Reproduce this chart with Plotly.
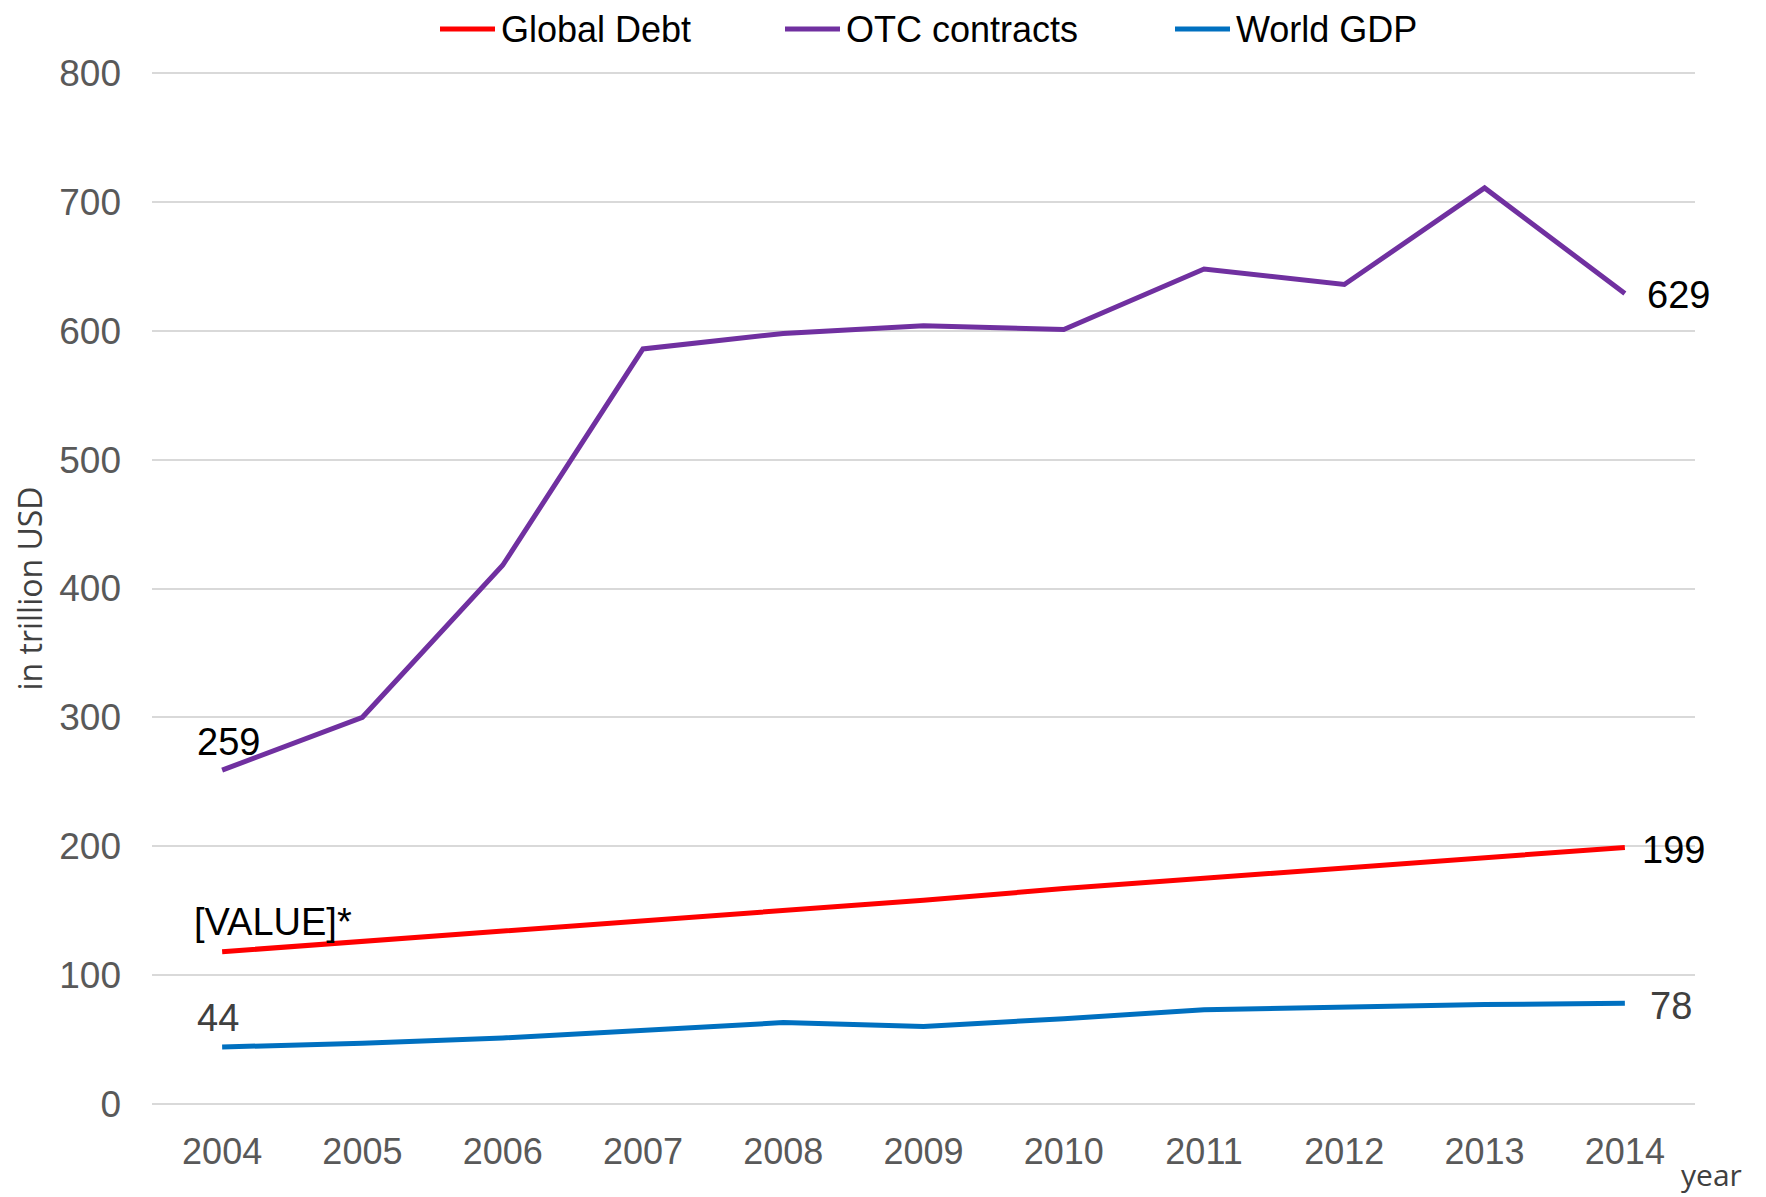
import plotly.graph_objects as go

years = [2004, 2005, 2006, 2007, 2008, 2009, 2010, 2011, 2012, 2013, 2014]
global_debt = [118, 126, 134, 142, 150, 158, 167, 175, 183, 191, 199]
otc_contracts = [259, 300, 418, 586, 598, 604, 601, 648, 636, 711, 629]
world_gdp = [44, 47, 51, 57, 63, 60, 66, 73, 75, 77, 78]

series_names = ["Global Debt", "OTC contracts", "World GDP"]
series_values = [global_debt, otc_contracts, world_gdp]
series_colors = ["#FF0000", "#7030A0", "#0070C0"]

y_ticks = [0, 100, 200, 300, 400, 500, 600, 700, 800]

# page body has an 8px margin: figure coordinates = screen coordinates - 8
OFF = 8
W, H = 1766, 1197
L, T = 152 - OFF, 72 - OFF
PW, PH = 1543, 1033
R, B = W - L - PW, H - T - PH


def px_x(sx):
    return (sx - OFF - L) / PW


def px_y(sy):
    return (T + PH - (sy - OFF)) / PH


fig = go.Figure()
for name, vals, col in zip(series_names, series_values, series_colors):
    fig.add_trace(go.Scatter(
        x=years, y=vals, name=name, mode="lines",
        line=dict(color=col, width=5), showlegend=False,
    ))

ARIAL = "Liberation Sans, Arial, sans-serif"
LABEL_FONT = dict(family=ARIAL, size=38)
# start labels
fig.add_annotation(x=years[0], y=otc_contracts[0], text=str(otc_contracts[0]),
                   showarrow=False, xanchor="left", yanchor="middle",
                   xshift=-27, yshift=28, font=dict(LABEL_FONT, color="#000000"))
fig.add_annotation(x=years[0], y=global_debt[0], text="[VALUE]*",
                   showarrow=False, xanchor="left", yanchor="middle",
                   xshift=-30, yshift=30, font=dict(LABEL_FONT, color="#000000"))
fig.add_annotation(x=years[0], y=world_gdp[0], text=str(world_gdp[0]),
                   showarrow=False, xanchor="left", yanchor="middle",
                   xshift=-27, yshift=29, font=dict(LABEL_FONT, color="#404040"))
# end labels
fig.add_annotation(x=years[-1], y=otc_contracts[-1], text=str(otc_contracts[-1]),
                   showarrow=False, xanchor="left", yanchor="middle",
                   xshift=20, yshift=-1, font=dict(LABEL_FONT, color="#000000"))
fig.add_annotation(x=years[-1], y=global_debt[-1], text=str(global_debt[-1]),
                   showarrow=False, xanchor="left", yanchor="middle",
                   xshift=15, yshift=-3, font=dict(LABEL_FONT, color="#000000"))
fig.add_annotation(x=years[-1], y=world_gdp[-1], text=str(world_gdp[-1]),
                   showarrow=False, xanchor="left", yanchor="middle",
                   xshift=23, yshift=-3, font=dict(LABEL_FONT, color="#404040"))

# x-axis title "year" at bottom right
fig.add_annotation(xref="paper", yref="paper", x=px_x(1711), y=px_y(1197),
                   text="year", showarrow=False, xanchor="center", yanchor="bottom",
                   font=dict(family="Open Sans, sans-serif", size=30, color="#404040"))

# legend (drawn with shapes + text)
legend_line_x = [(440, 495), (785, 840), (1175, 1230)]
legend_text_x = [499, 844, 1234]
legend_y = 29
for name, col, (x0, x1), tx in zip(series_names, series_colors, legend_line_x, legend_text_x):
    fig.add_shape(type="line", xref="paper", yref="paper",
                  x0=px_x(x0), x1=px_x(x1), y0=px_y(legend_y), y1=px_y(legend_y),
                  line=dict(color=col, width=5))
    fig.add_annotation(xref="paper", yref="paper", x=px_x(tx), y=px_y(legend_y),
                       text=name, showarrow=False, xanchor="left", yanchor="middle",
                       font=dict(family=ARIAL, size=36, color="#000000"))

fig.update_layout(
    width=W, height=H,
    margin=dict(l=L, r=R, t=T, b=B, pad=0, autoexpand=False),
    paper_bgcolor="white", plot_bgcolor="white",
    showlegend=False,
    xaxis=dict(
        range=[2003.5, 2014.5], tickmode="array", tickvals=years,
        ticktext=[str(y) for y in years], showgrid=False, zeroline=False,
        showline=False, ticks="", ticklabelstandoff=22, automargin=False,
        tickfont=dict(family=ARIAL, size=36, color="#595959"),
    ),
    yaxis=dict(
        range=[-1, 801], tickmode="array", tickvals=y_ticks,
        showgrid=True, gridcolor="#D9D9D9", gridwidth=1.5, zeroline=False,
        showline=False, ticks="", ticklabelstandoff=30, automargin=False,
        tickfont=dict(family=ARIAL, size=37, color="#595959"),
        title=dict(text="in trillion USD", standoff=14,
                   font=dict(family="Open Sans, sans-serif", size=32, color="#404040")),
    ),
)

fig.write_html("out.html")
